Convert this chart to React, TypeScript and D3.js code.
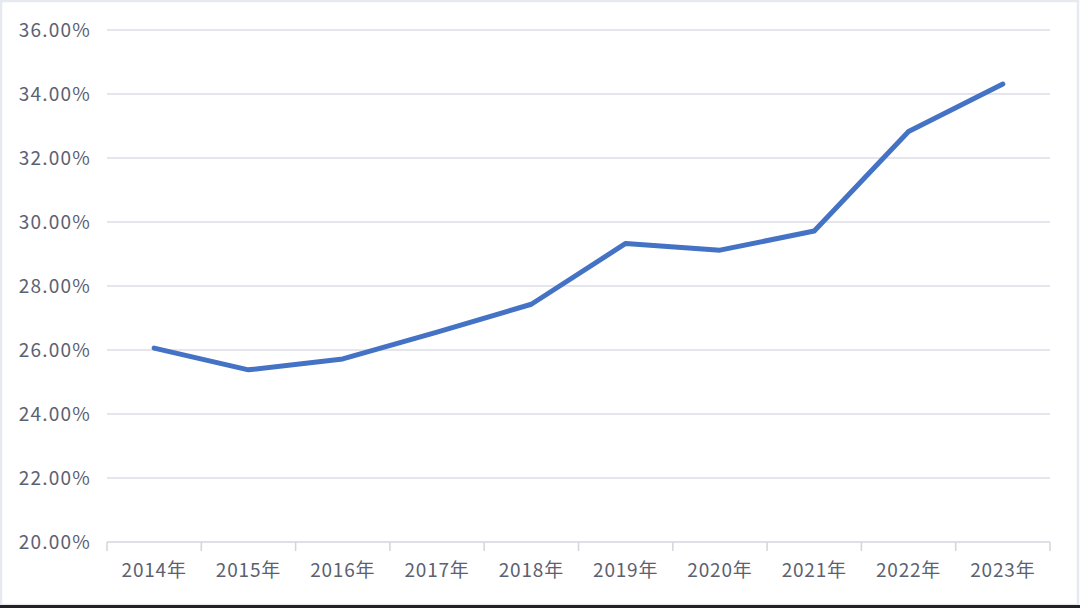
import React from "react";
import * as d3 from "d3";

const categories = ["2014年", "2015年", "2016年", "2017年", "2018年", "2019年", "2020年", "2021年", "2022年", "2023年"];
const values = [26.06, 25.38, 25.72, 26.56, 27.43, 29.33, 29.12, 29.72, 32.83, 34.31];
const yTicks = [20, 22, 24, 26, 28, 30, 32, 34, 36];

const W = 1080;
const H = 608;
const left = 107;
const right = 1050;
const top = 30;
const bottom = 542;

export default function App() {
  const x = d3.scaleBand<string>().domain(categories).range([left, right]).padding(0);
  const y = d3.scaleLinear().domain([20, 36]).range([bottom, top]);
  const line = d3
    .line<number>()
    .x((_, i) => (x(categories[i]) as number) + x.bandwidth() / 2)
    .y((d) => y(d));
  const boundaries = categories.map((c) => x(c) as number).concat([right]);
  const font = "'Noto Sans CJK SC', 'Noto Sans', sans-serif";
  return (
    <svg
      width={W}
      height={H}
      style={{ position: "absolute", left: 0, top: 0, display: "block" }}
    >
      <rect x={0} y={0} width={W} height={H} fill="#ffffff" />
      <rect x={1} y={1} width={W - 3} height={H - 4} fill="none" stroke="#e6e9f0" strokeWidth={2.5} />
      <line x1={0} x2={W} y1={606.5} y2={606.5} stroke="#222" strokeWidth={3} />
      {yTicks.map((t) => (
        <g key={t}>
          {t !== 20 && (
            <line x1={left} x2={right} y1={y(t)} y2={y(t)} stroke="#dcdce6" strokeWidth={1.5} />
          )}
          <text
            x={91}
            y={y(t)}
            dy="0.36em"
            textAnchor="end"
            fontFamily={font}
            fontSize={19}
            letterSpacing={1.2}
            fill="#5b6170"
          >
            {t.toFixed(2)}%
          </text>
        </g>
      ))}
      <line x1={left} x2={right} y1={bottom} y2={bottom} stroke="#d4d4de" strokeWidth={1.5} />
      {boundaries.map((b, i) => (
        <line key={i} x1={b} x2={b} y1={bottom} y2={bottom + 9} stroke="#d4d4de" strokeWidth={1.5} />
      ))}
      {categories.map((c) => (
        <text
          key={c}
          x={(x(c) as number) + x.bandwidth() / 2}
          y={577}
          textAnchor="middle"
          fontFamily={font}
          fontSize={19}
          letterSpacing={0.8}
          fill="#5b6170"
        >
          {c}
        </text>
      ))}
      <path
        d={line(values) || ""}
        fill="none"
        stroke="#4472c4"
        strokeWidth={5}
        strokeLinejoin="round"
        strokeLinecap="round"
      />
    </svg>
  );
}
